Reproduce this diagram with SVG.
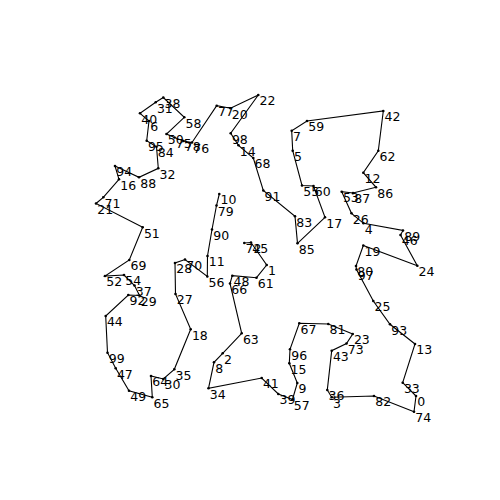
<svg xmlns="http://www.w3.org/2000/svg" width="500" height="500" viewBox="0 0 500 500">
<style>
.e{fill:none;stroke:#000;stroke-width:1.1;stroke-linejoin:miter}
.d{fill:#000}
.t{font-family:"DejaVu Sans",Verdana,sans-serif;font-size:12.5px;fill:#000}
</style>
<rect width="500" height="500" fill="#fff"/>
<g id="connectors">
<polyline class="e" points="219.3,194 216.5,205.5 212,229.5 207.5,256 207.3,276.5 185,259.5 175,263 175.5,294 190.7,329.3 174.3,369.3 163.3,379 151,376 152.3,397.3 129,390.7 115.7,368.3 107.5,352.7 105.7,316 128.3,295 139.5,295.5 134.5,285.5 124,275 105,276 129.3,260 142.7,227.3 96,203.5 103.3,197.3 119,179.3 115,166 139,177.3 158.3,168.3 156.5,146.7 146.7,140.7 149,121 140,113.3 155.7,102.3 163.3,97.5 184.3,117.3 166.5,134 174.5,137.5 183.5,141 192,142.5 216.7,105.7 230.5,108.3 258.3,95 230.7,133.3 238.5,145.3 253.3,158 263.3,190.5 295,216.3 297.5,243.3 325,217.3 313.5,186 302,185.5 292.7,150.7 291.7,130.7 307,121 383.3,111 378.3,150.7 363.3,172.7 376,187.3 353,193 341.7,191.7 351.5,213.3 363.5,223.3 403,230.5 400.5,235 417.3,265.7 363.3,245.5 356,266 356.5,269.5 373.3,301 390,324.3 415,344 402.7,382.7 416,396 414,411.7 374,396 331.7,397.3 327.3,390 331.7,350.7 346.5,343.5 352.7,334 328.3,324 299.3,323.3 290,349.3 289.3,363.3 297.3,383 292.5,399.5 278.3,394 261.7,378 208.5,388.3 214,362.3 222.7,353.3 241.7,333.3 230,283.5 232.3,275.7 256.5,277.7 266.7,265 251,242.5 244.3,243"/>
</g>
<g id="n0"><circle class="d" cx="416" cy="396" r="1.3"/><text class="t" x="417.2" y="406.2">0</text></g>
<g id="n1"><circle class="d" cx="266.7" cy="265" r="1.3"/><text class="t" x="267.9" y="275.2">1</text></g>
<g id="n2"><circle class="d" cx="222.7" cy="353.3" r="1.3"/><text class="t" x="223.9" y="363.5">2</text></g>
<g id="n3"><circle class="d" cx="331.7" cy="397.3" r="1.3"/><text class="t" x="332.9" y="407.5">3</text></g>
<g id="n4"><circle class="d" cx="363.5" cy="223.3" r="1.3"/><text class="t" x="364.7" y="233.5">4</text></g>
<g id="n5"><circle class="d" cx="292.7" cy="150.7" r="1.3"/><text class="t" x="293.9" y="160.9">5</text></g>
<g id="n6"><circle class="d" cx="149" cy="121" r="1.3"/><text class="t" x="150.2" y="131.2">6</text></g>
<g id="n7"><circle class="d" cx="291.7" cy="130.7" r="1.3"/><text class="t" x="292.9" y="140.9">7</text></g>
<g id="n8"><circle class="d" cx="214" cy="362.3" r="1.3"/><text class="t" x="215.2" y="372.5">8</text></g>
<g id="n9"><circle class="d" cx="297.3" cy="383" r="1.3"/><text class="t" x="298.5" y="393.2">9</text></g>
<g id="n10"><circle class="d" cx="219.3" cy="194" r="1.3"/><text class="t" x="220.5" y="204.2">10</text></g>
<g id="n11"><circle class="d" cx="207.5" cy="256" r="1.3"/><text class="t" x="208.7" y="266.2">11</text></g>
<g id="n12"><circle class="d" cx="363.3" cy="172.7" r="1.3"/><text class="t" x="364.5" y="182.9">12</text></g>
<g id="n13"><circle class="d" cx="415" cy="344" r="1.3"/><text class="t" x="416.2" y="354.2">13</text></g>
<g id="n14"><circle class="d" cx="238.5" cy="145.3" r="1.3"/><text class="t" x="239.7" y="155.5">14</text></g>
<g id="n15"><circle class="d" cx="289.3" cy="363.3" r="1.3"/><text class="t" x="290.5" y="373.5">15</text></g>
<g id="n16"><circle class="d" cx="119" cy="179.3" r="1.3"/><text class="t" x="120.2" y="189.5">16</text></g>
<g id="n17"><circle class="d" cx="325" cy="217.3" r="1.3"/><text class="t" x="326.2" y="227.5">17</text></g>
<g id="n18"><circle class="d" cx="190.7" cy="329.3" r="1.3"/><text class="t" x="191.9" y="339.5">18</text></g>
<g id="n19"><circle class="d" cx="363.3" cy="245.5" r="1.3"/><text class="t" x="364.5" y="255.7">19</text></g>
<g id="n20"><circle class="d" cx="230.5" cy="108.3" r="1.3"/><text class="t" x="231.7" y="118.5">20</text></g>
<g id="n21"><circle class="d" cx="96" cy="203.5" r="1.3"/><text class="t" x="97.2" y="213.7">21</text></g>
<g id="n22"><circle class="d" cx="258.3" cy="95" r="1.3"/><text class="t" x="259.5" y="105.2">22</text></g>
<g id="n23"><circle class="d" cx="352.7" cy="334" r="1.3"/><text class="t" x="353.9" y="344.2">23</text></g>
<g id="n24"><circle class="d" cx="417.3" cy="265.7" r="1.3"/><text class="t" x="418.5" y="275.9">24</text></g>
<g id="n25"><circle class="d" cx="373.3" cy="301" r="1.3"/><text class="t" x="374.5" y="311.2">25</text></g>
<g id="n26"><circle class="d" cx="351.5" cy="213.3" r="1.3"/><text class="t" x="352.7" y="223.5">26</text></g>
<g id="n27"><circle class="d" cx="175.5" cy="294" r="1.3"/><text class="t" x="176.7" y="304.2">27</text></g>
<g id="n28"><circle class="d" cx="175" cy="263" r="1.3"/><text class="t" x="176.2" y="273.2">28</text></g>
<g id="n29"><circle class="d" cx="139.5" cy="295.5" r="1.3"/><text class="t" x="140.7" y="305.7">29</text></g>
<g id="n30"><circle class="d" cx="163.3" cy="379" r="1.3"/><text class="t" x="164.5" y="389.2">30</text></g>
<g id="n31"><circle class="d" cx="155.7" cy="102.3" r="1.3"/><text class="t" x="156.9" y="112.5">31</text></g>
<g id="n32"><circle class="d" cx="158.3" cy="168.3" r="1.3"/><text class="t" x="159.5" y="178.5">32</text></g>
<g id="n33"><circle class="d" cx="402.7" cy="382.7" r="1.3"/><text class="t" x="403.9" y="392.9">33</text></g>
<g id="n34"><circle class="d" cx="208.5" cy="388.3" r="1.3"/><text class="t" x="209.7" y="398.5">34</text></g>
<g id="n35"><circle class="d" cx="174.3" cy="369.3" r="1.3"/><text class="t" x="175.5" y="379.5">35</text></g>
<g id="n36"><circle class="d" cx="327.3" cy="390" r="1.3"/><text class="t" x="328.5" y="400.2">36</text></g>
<g id="n37"><circle class="d" cx="134.5" cy="285.5" r="1.3"/><text class="t" x="135.7" y="295.7">37</text></g>
<g id="n38"><circle class="d" cx="163.3" cy="97.5" r="1.3"/><text class="t" x="164.5" y="107.7">38</text></g>
<g id="n39"><circle class="d" cx="278.3" cy="394" r="1.3"/><text class="t" x="279.5" y="404.2">39</text></g>
<g id="n40"><circle class="d" cx="140" cy="113.3" r="1.3"/><text class="t" x="141.2" y="123.5">40</text></g>
<g id="n41"><circle class="d" cx="261.7" cy="378" r="1.3"/><text class="t" x="262.9" y="388.2">41</text></g>
<g id="n42"><circle class="d" cx="383.3" cy="111" r="1.3"/><text class="t" x="384.5" y="121.2">42</text></g>
<g id="n43"><circle class="d" cx="331.7" cy="350.7" r="1.3"/><text class="t" x="332.9" y="360.9">43</text></g>
<g id="n44"><circle class="d" cx="105.7" cy="316" r="1.3"/><text class="t" x="106.9" y="326.2">44</text></g>
<g id="n45"><circle class="d" cx="251" cy="242.5" r="1.3"/><text class="t" x="252.2" y="252.7">45</text></g>
<g id="n46"><circle class="d" cx="400.5" cy="235" r="1.3"/><text class="t" x="401.7" y="245.2">46</text></g>
<g id="n47"><circle class="d" cx="115.7" cy="368.3" r="1.3"/><text class="t" x="116.9" y="378.5">47</text></g>
<g id="n48"><circle class="d" cx="232.3" cy="275.7" r="1.3"/><text class="t" x="233.5" y="285.9">48</text></g>
<g id="n49"><circle class="d" cx="129" cy="390.7" r="1.3"/><text class="t" x="130.2" y="400.9">49</text></g>
<g id="n50"><circle class="d" cx="166.5" cy="134" r="1.3"/><text class="t" x="167.7" y="144.2">50</text></g>
<g id="n51"><circle class="d" cx="142.7" cy="227.3" r="1.3"/><text class="t" x="143.9" y="237.5">51</text></g>
<g id="n52"><circle class="d" cx="105" cy="276" r="1.3"/><text class="t" x="106.2" y="286.2">52</text></g>
<g id="n53"><circle class="d" cx="341.7" cy="191.7" r="1.3"/><text class="t" x="342.9" y="201.9">53</text></g>
<g id="n54"><circle class="d" cx="124" cy="275" r="1.3"/><text class="t" x="125.2" y="285.2">54</text></g>
<g id="n55"><circle class="d" cx="302" cy="185.5" r="1.3"/><text class="t" x="303.2" y="195.7">55</text></g>
<g id="n56"><circle class="d" cx="207.3" cy="276.5" r="1.3"/><text class="t" x="208.5" y="286.7">56</text></g>
<g id="n57"><circle class="d" cx="292.5" cy="399.5" r="1.3"/><text class="t" x="293.7" y="409.7">57</text></g>
<g id="n58"><circle class="d" cx="184.3" cy="117.3" r="1.3"/><text class="t" x="185.5" y="127.5">58</text></g>
<g id="n59"><circle class="d" cx="307" cy="121" r="1.3"/><text class="t" x="308.2" y="131.2">59</text></g>
<g id="n60"><circle class="d" cx="313.5" cy="186" r="1.3"/><text class="t" x="314.7" y="196.2">60</text></g>
<g id="n61"><circle class="d" cx="256.5" cy="277.7" r="1.3"/><text class="t" x="257.7" y="287.9">61</text></g>
<g id="n62"><circle class="d" cx="378.3" cy="150.7" r="1.3"/><text class="t" x="379.5" y="160.9">62</text></g>
<g id="n63"><circle class="d" cx="241.7" cy="333.3" r="1.3"/><text class="t" x="242.9" y="343.5">63</text></g>
<g id="n64"><circle class="d" cx="151" cy="376" r="1.3"/><text class="t" x="152.2" y="386.2">64</text></g>
<g id="n65"><circle class="d" cx="152.3" cy="397.3" r="1.3"/><text class="t" x="153.5" y="407.5">65</text></g>
<g id="n66"><circle class="d" cx="230" cy="283.5" r="1.3"/><text class="t" x="231.2" y="293.7">66</text></g>
<g id="n67"><circle class="d" cx="299.3" cy="323.3" r="1.3"/><text class="t" x="300.5" y="333.5">67</text></g>
<g id="n68"><circle class="d" cx="253.3" cy="158" r="1.3"/><text class="t" x="254.5" y="168.2">68</text></g>
<g id="n69"><circle class="d" cx="129.3" cy="260" r="1.3"/><text class="t" x="130.5" y="270.2">69</text></g>
<g id="n70"><circle class="d" cx="185" cy="259.5" r="1.3"/><text class="t" x="186.2" y="269.7">70</text></g>
<g id="n71"><circle class="d" cx="103.3" cy="197.3" r="1.3"/><text class="t" x="104.5" y="207.5">71</text></g>
<g id="n72"><circle class="d" cx="244.3" cy="243" r="1.3"/><text class="t" x="245.5" y="253.2">72</text></g>
<g id="n73"><circle class="d" cx="346.5" cy="343.5" r="1.3"/><text class="t" x="347.7" y="353.7">73</text></g>
<g id="n74"><circle class="d" cx="414" cy="411.7" r="1.3"/><text class="t" x="415.2" y="421.9">74</text></g>
<g id="n75"><circle class="d" cx="174.5" cy="137.5" r="1.3"/><text class="t" x="175.7" y="147.7">75</text></g>
<g id="n76"><circle class="d" cx="192" cy="142.5" r="1.3"/><text class="t" x="193.2" y="152.7">76</text></g>
<g id="n77"><circle class="d" cx="216.7" cy="105.7" r="1.3"/><text class="t" x="217.9" y="115.9">77</text></g>
<g id="n78"><circle class="d" cx="183.5" cy="141" r="1.3"/><text class="t" x="184.7" y="151.2">78</text></g>
<g id="n79"><circle class="d" cx="216.5" cy="205.5" r="1.3"/><text class="t" x="217.7" y="215.7">79</text></g>
<g id="n80"><circle class="d" cx="356" cy="266" r="1.3"/><text class="t" x="357.2" y="276.2">80</text></g>
<g id="n81"><circle class="d" cx="328.3" cy="324" r="1.3"/><text class="t" x="329.5" y="334.2">81</text></g>
<g id="n82"><circle class="d" cx="374" cy="396" r="1.3"/><text class="t" x="375.2" y="406.2">82</text></g>
<g id="n83"><circle class="d" cx="295" cy="216.3" r="1.3"/><text class="t" x="296.2" y="226.5">83</text></g>
<g id="n84"><circle class="d" cx="156.5" cy="146.7" r="1.3"/><text class="t" x="157.7" y="156.9">84</text></g>
<g id="n85"><circle class="d" cx="297.5" cy="243.3" r="1.3"/><text class="t" x="298.7" y="253.5">85</text></g>
<g id="n86"><circle class="d" cx="376" cy="187.3" r="1.3"/><text class="t" x="377.2" y="197.5">86</text></g>
<g id="n87"><circle class="d" cx="353" cy="193" r="1.3"/><text class="t" x="354.2" y="203.2">87</text></g>
<g id="n88"><circle class="d" cx="139" cy="177.3" r="1.3"/><text class="t" x="140.2" y="187.5">88</text></g>
<g id="n89"><circle class="d" cx="403" cy="230.5" r="1.3"/><text class="t" x="404.2" y="240.7">89</text></g>
<g id="n90"><circle class="d" cx="212" cy="229.5" r="1.3"/><text class="t" x="213.2" y="239.7">90</text></g>
<g id="n91"><circle class="d" cx="263.3" cy="190.5" r="1.3"/><text class="t" x="264.5" y="200.7">91</text></g>
<g id="n92"><circle class="d" cx="128.3" cy="295" r="1.3"/><text class="t" x="129.5" y="305.2">92</text></g>
<g id="n93"><circle class="d" cx="390" cy="324.3" r="1.3"/><text class="t" x="391.2" y="334.5">93</text></g>
<g id="n94"><circle class="d" cx="115" cy="166" r="1.3"/><text class="t" x="116.2" y="176.2">94</text></g>
<g id="n95"><circle class="d" cx="146.7" cy="140.7" r="1.3"/><text class="t" x="147.9" y="150.9">95</text></g>
<g id="n96"><circle class="d" cx="290" cy="349.3" r="1.3"/><text class="t" x="291.2" y="359.5">96</text></g>
<g id="n97"><circle class="d" cx="356.5" cy="269.5" r="1.3"/><text class="t" x="357.7" y="279.7">97</text></g>
<g id="n98"><circle class="d" cx="230.7" cy="133.3" r="1.3"/><text class="t" x="231.9" y="143.5">98</text></g>
<g id="n99"><circle class="d" cx="107.5" cy="352.7" r="1.3"/><text class="t" x="108.7" y="362.9">99</text></g>
</svg>
